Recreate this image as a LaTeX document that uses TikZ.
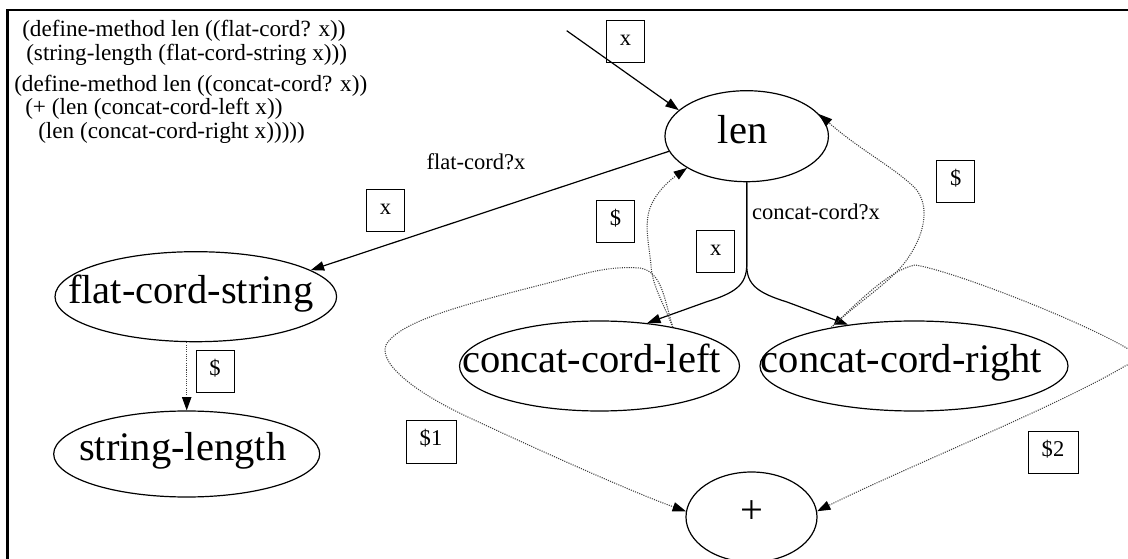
\documentclass[tikz,border=0pt]{standalone}
\usepackage{fontspec}
\setmainfont{Liberation Serif}
\usetikzlibrary{shapes.geometric,arrows.meta}
\newcommand{\bigf}{\fontsize{30.4}{36}\selectfont}
\newcommand{\smf}{\fontsize{16.9}{20}\selectfont}
\newcommand{\codef}{\fontsize{17.4}{21}\selectfont}
\newcommand{\ntext}[2][0pt]{\makebox[0pt]{\raisebox{-5.25pt}[0pt][0pt]{#2}\kern#1}}
\begin{document}
\begin{tikzpicture}[x=0.75pt,y=-0.75pt,
  ell/.style={ellipse, draw, line width=0.9pt, inner sep=0pt, font=\bigf},
  code/.style={anchor=base west, inner sep=0pt, font=\codef},
  plain/.style={inner sep=0pt, font=\smf},
  lbox/.style={draw, rectangle, line width=0.75pt, inner sep=0pt, minimum width=28.5pt, minimum height=31.5pt, font=\smf, text height=0.68em, text depth=0.12em},
  lboxw/.style={lbox, minimum width=37.5pt},
  arr/.style={line width=0.9pt, -{Triangle[length=10pt,width=7pt,color=black]}},
  dot/.style={line width=0.8pt, black!75, dash pattern=on 0.8pt off 0.9pt}]
\useasboundingbox (0,0) rectangle (1128,559);
\clip (0,0) rectangle (1128,559);
\draw[line width=1.6pt] (7.5,600) -- (7.5,10) -- (1200,10);

% code text
\node[code] (c1) at (22,37) {(define-method len ((flat-cord? x))};
\node[code] (c2) at (26,61) {(string-length (flat-cord-string x)))};
\node[code] (c3) at (14,92) {(define-method len ((concat-cord? x))};
\node[code] (c4) at (25,115) {(+ (len (concat-cord-left x))};
\node[code] (c5) at (38,139) {(len (concat-cord-right x)))))};

% nodes
\node[ell, minimum width=122.6pt, minimum height=68.25pt] (len) at (746.7,136.2) {\ntext[6pt]{len}};
\node[ell, minimum width=211.2pt, minimum height=67.5pt] (fcs) at (195.8,296.7) {\ntext[7.5pt]{flat-cord-string}};
\node[ell, minimum width=199.5pt, minimum height=64.5pt] (sl) at (186.7,454) {\ntext[6pt]{string-length}};
\node[ell, minimum width=210pt, minimum height=67.5pt] (ccl) at (599.5,366) {\ntext[12pt]{concat-cord-left}};
\node[ell, minimum width=231pt, minimum height=67.5pt] (ccr) at (914,366) {\ntext[18.75pt]{concat-cord-right}};
\node[ell, minimum width=98.25pt, minimum height=67.5pt] (plus) at (751.5,517) {\ntext{+}};

% labels
\node[lbox] (lx0) at (625.5,41.7) {x};
\node[plain] (lfc) at (476,162) {flat-cord?x};
\node[lbox] (lx1) at (385.5,211) {x};
\node[lbox] (ld0) at (215,371.7) {\$};
\node[plain] (lcc) at (816,211.7) {concat-cord?x};
\node[lbox] (lx2) at (715.8,251.7) {x};
\node[lbox] (ld1) at (615.5,221.7) {\$};
\node[lbox] (ld2) at (955.8,181.7) {\$};
\node[lboxw] (ld3) at (431,442) {\$1};
\node[lboxw] (ld4) at (1053,452.5) {\$2};

% edges
\coordinate (in) at (566.7,30.7);
\coordinate (fork) at (746.7,265);
\draw[arr] (in) -- (len.159);
\draw[arr] (len.191) -- (fcs.13);
\draw[arr,dot] (fcs.south -| sl.north) -- (sl.north);
\draw[arr] (len.south) -- (fork) .. controls (746.7,285) and (735,293) .. (706,302) -- (ccl.42);
\draw[arr] (len.south) -- (fork) .. controls (746.7,285) and (758,293) .. (787,302) -- (ccr.148);
\draw[arr,dot] (ccl.28) .. controls (662,300) and (652,285) .. (651,265) .. controls (649,245) and (644,225) .. (650,208) .. controls (656,192) and (670,180) .. (len.208);
\draw[arr,dot] (ccl.28) .. controls (664,298) and (662,272) .. (640,268) .. controls (610,266) and (590,272) .. (560,280) .. controls (470,303) and (400,320) .. (386,345) .. controls (378,365) and (420,395) .. (470,418) .. controls (560,460) and (640,495) .. (plus.175);
\draw[arr,dot] (ccr.155) .. controls (860,300) and (895,280) .. (910,255) .. controls (925,232) and (930,205) .. (915,188) .. controls (895,168) and (860,150) .. (len.17);
\draw[arr,dot] (ccr.155) .. controls (860,300) and (890,270) .. (915,265) .. controls (950,270) and (1080,320) .. (1130,350) .. controls (1140,356) and (1135,362) .. (1125,366) .. controls (1060,405) and (900,470) .. (plus.5);
\end{tikzpicture}
\end{document}
